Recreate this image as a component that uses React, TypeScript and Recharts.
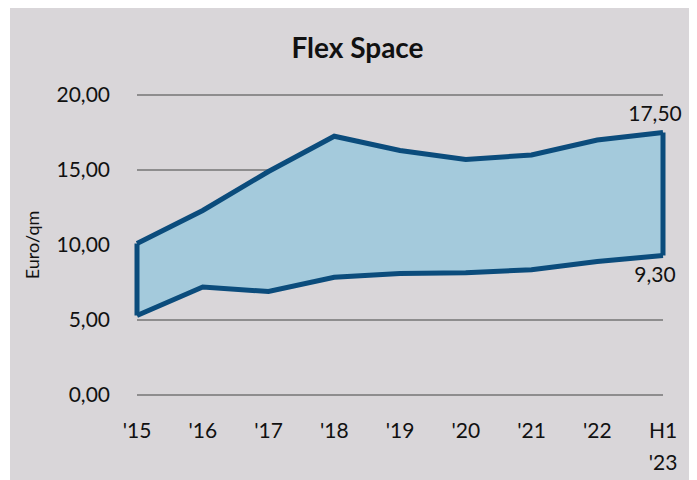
import React from "react";
import {
  Area,
  CartesianGrid,
  ComposedChart,
  LabelList,
  Line,
  ReferenceLine,
  XAxis,
  YAxis,
} from "recharts";

const years = ["'15", "'16", "'17", "'18", "'19", "'20", "'21", "'22", "H1 '23"];
const rentHigh = [10.1, 12.3, 14.9, 17.25, 16.3, 15.7, 16.0, 17.0, 17.5];
const rentLow = [5.3, 7.2, 6.9, 7.85, 8.1, 8.15, 8.35, 8.9, 9.3];
const yTicks = [0, 5, 10, 15, 20];

const data = years.map((year, i) => ({
  year,
  high: rentHigh[i],
  low: rentLow[i],
  range: [rentLow[i], rentHigh[i]],
}));

const FONT = "Lato, 'Open Sans', sans-serif";
const BG = "#d9d6d9";
const LINE = "#0b4c7c";
const FILL = "#a4cadc";

const fmt = (v: number) => v.toFixed(2).replace(".", ",");

function YearTick({ x, y, payload }: any) {
  const lines = String(payload.value).split(" ");
  return (
    <text x={x} y={y} textAnchor="middle" fill="#111" fontSize={21} fontFamily={FONT}>
      {lines.map((l, i) => (
        <tspan key={i} x={x} dy={i === 0 ? "0.71em" : 32}>
          {l}
        </tspan>
      ))}
    </text>
  );
}

// only the last point carries a value label
const lastLabel = (dy: number) => (props: any) => {
  const { x, y, value, index } = props;
  if (index !== years.length - 1) return null;
  return (
    <text x={x - 8} y={y + dy} textAnchor="middle" fill="#111" fontSize={21} fontFamily={FONT}>
      {fmt(value)}
    </text>
  );
};

export default function App() {
  const last = years.length - 1;
  return (
    <div style={{ position: "relative", width: 687, height: 472, marginLeft: 2, background: BG }}>
      <div
        style={{
          position: "absolute",
          left: 0,
          width: 695,
          top: 22,
          textAlign: "center",
          fontFamily: FONT,
          fontWeight: 700,
          fontSize: 28,
          color: "#111",
        }}
      >
        Flex Space
      </div>
      <div
        style={{
          position: "absolute",
          left: 22 - 50,
          top: 237 - 11,
          width: 100,
          textAlign: "center",
          transform: "rotate(-90deg)",
          fontFamily: FONT,
          fontSize: 18,
          color: "#111",
        }}
      >
        Euro/qm
      </div>
      <ComposedChart
        width={687}
        height={472}
        data={data}
        margin={{ top: 87, right: 34, bottom: 55, left: 27 }}
      >
        <Area
          dataKey="range"
          stroke="none"
          fill={FILL}
          fillOpacity={1}
          isAnimationActive={false}
        />
        <CartesianGrid vertical={false} stroke="#6e6e6e" strokeOpacity={0.7} strokeWidth={2} />
        <XAxis
          dataKey="year"
          axisLine={false}
          tickLine={false}
          tickMargin={22}
          interval={0}
          tick={<YearTick />}
        />
        <YAxis
          width={100}
          domain={[0, 20]}
          ticks={yTicks}
          axisLine={false}
          tickLine={false}
          tickMargin={21}
          tickFormatter={fmt}
          tick={{ fontSize: 21, fill: "#111", fontFamily: FONT }}
        />
        <ReferenceLine
          segment={[
            { x: years[0], y: rentLow[0] },
            { x: years[0], y: rentHigh[0] },
          ]}
          stroke={LINE}
          strokeWidth={5}
        />
        <ReferenceLine
          segment={[
            { x: years[last], y: rentLow[last] },
            { x: years[last], y: rentHigh[last] },
          ]}
          stroke={LINE}
          strokeWidth={5}
        />
        <Line
          dataKey="high"
          stroke={LINE}
          strokeWidth={5}
          dot={false}
          isAnimationActive={false}
        >
          <LabelList dataKey="high" content={lastLabel(-12)} />
        </Line>
        <Line
          dataKey="low"
          stroke={LINE}
          strokeWidth={5}
          dot={false}
          isAnimationActive={false}
        >
          <LabelList dataKey="low" content={lastLabel(26)} />
        </Line>
      </ComposedChart>
    </div>
  );
}
